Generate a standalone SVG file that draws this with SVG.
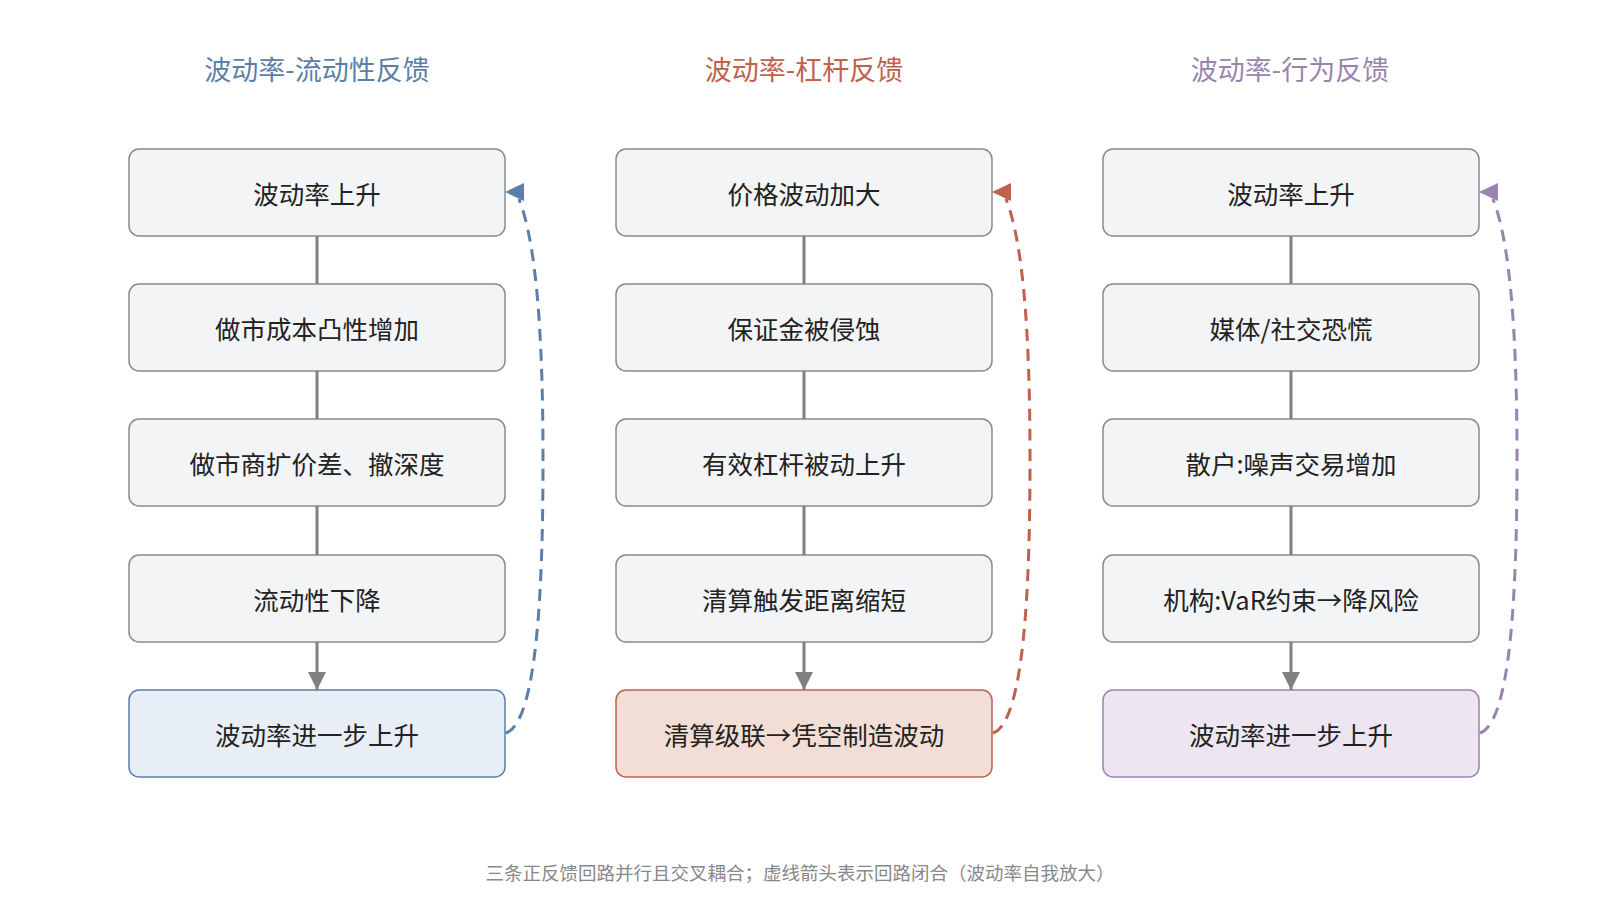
<svg xmlns="http://www.w3.org/2000/svg" width="1600" height="909" viewBox="0 0 1600 909">
<style>
text{font-family:"Noto Sans CJK SC","Noto Sans",sans-serif;text-anchor:middle;dominant-baseline:central}
.t{font-size:27px}
.n{font-size:25.5px;fill:#222}
.b{fill:#f3f4f6;stroke:#8a8a8a;stroke-width:1.5}
.v{stroke:#808080;stroke-width:3;fill:none;marker-end:url(#ag)}
.d{fill:none;stroke-width:3;stroke-dasharray:12 8}
</style>
<defs>
<marker id="ag" viewBox="0 0 10 10" refX="10" refY="5" markerWidth="18" markerHeight="18" orient="auto" markerUnits="userSpaceOnUse"><path d="M0,0L10,5L0,10z" fill="#808080"/></marker>
</defs>
<text class="t" x="317" y="68" fill="#5b7fa6">波动率-流动性反馈</text>
<text class="t" x="804" y="68" fill="#c0614d">波动率-杠杆反馈</text>
<text class="t" x="1290" y="68" fill="#9a84ad">波动率-行为反馈</text>
<g id="c1">
<g id="a1"><rect class="b" x="129" y="149" width="376" height="87" rx="10"/><text class="n" x="317" y="192">波动率上升</text></g>
<g id="a2"><rect class="b" x="129" y="284" width="376" height="87" rx="10"/><text class="n" x="317" y="327">做市成本凸性增加</text></g>
<g id="a3"><rect class="b" x="129" y="419" width="376" height="87" rx="10"/><text class="n" x="317" y="462">做市商扩价差、撤深度</text></g>
<g id="a4"><rect class="b" x="129" y="555" width="376" height="87" rx="10"/><text class="n" x="317" y="598">流动性下降</text></g>
<g id="a5"><rect x="129" y="690" width="376" height="87" rx="10" fill="#e8eef6" stroke="#5b7fa6" stroke-width="1.5"/><text class="n" x="317" y="733">波动率进一步上升</text></g>
</g>
<g id="c2">
<g id="b1"><rect class="b" x="616" y="149" width="376" height="87" rx="10"/><text class="n" x="804" y="192">价格波动加大</text></g>
<g id="b2"><rect class="b" x="616" y="284" width="376" height="87" rx="10"/><text class="n" x="804" y="327">保证金被侵蚀</text></g>
<g id="b3"><rect class="b" x="616" y="419" width="376" height="87" rx="10"/><text class="n" x="804" y="462">有效杠杆被动上升</text></g>
<g id="b4"><rect class="b" x="616" y="555" width="376" height="87" rx="10"/><text class="n" x="804" y="598">清算触发距离缩短</text></g>
<g id="b5"><rect x="616" y="690" width="376" height="87" rx="10" fill="#f3ded6" stroke="#c0614d" stroke-width="1.5"/><text class="n" x="804" y="733">清算级联→凭空制造波动</text></g>
</g>
<g id="c3">
<g id="p1"><rect class="b" x="1103" y="149" width="376" height="87" rx="10"/><text class="n" x="1291" y="192">波动率上升</text></g>
<g id="p2"><rect class="b" x="1103" y="284" width="376" height="87" rx="10"/><text class="n" x="1291" y="327">媒体/社交恐慌</text></g>
<g id="p3"><rect class="b" x="1103" y="419" width="376" height="87" rx="10"/><text class="n" x="1291" y="462">散户:噪声交易增加</text></g>
<g id="p4"><rect class="b" x="1103" y="555" width="376" height="87" rx="10"/><text class="n" x="1291" y="598">机构:VaR约束→降风险</text></g>
<g id="p5"><rect x="1103" y="690" width="376" height="87" rx="10" fill="#ede6f1" stroke="#9a84ad" stroke-width="1.5"/><text class="n" x="1291" y="733">波动率进一步上升</text></g>
</g>
<g id="connectors">
<path class="v" d="M317,236V284M317,371V419M317,506V555M317,642V690"/>
<path class="v" d="M804,236V284M804,371V419M804,506V555M804,642V690"/>
<path class="v" d="M1291,236V284M1291,371V419M1291,506V555M1291,642V690"/>
<path class="d" stroke="#5b7fa6" d="M506,733C538,722 543,580 543,460C543,340 537,245 519,199"/>
<path d="M505,192L524,183L524,201z" fill="#5b7fa6"/>
<path class="d" stroke="#c0614d" d="M993,733C1025,722 1030,580 1030,460C1030,340 1024,245 1006,199"/>
<path d="M992,192L1011,183L1011,201z" fill="#c0614d"/>
<path class="d" stroke="#9a84ad" d="M1480,733C1512,722 1517,580 1517,460C1517,340 1511,245 1493,199"/>
<path d="M1479,192L1498,183L1498,201z" fill="#9a84ad"/>
</g>
<text x="800" y="872" font-size="18.5" fill="#888">三条正反馈回路并行且交叉耦合；虚线箭头表示回路闭合（波动率自我放大）</text>
</svg>
